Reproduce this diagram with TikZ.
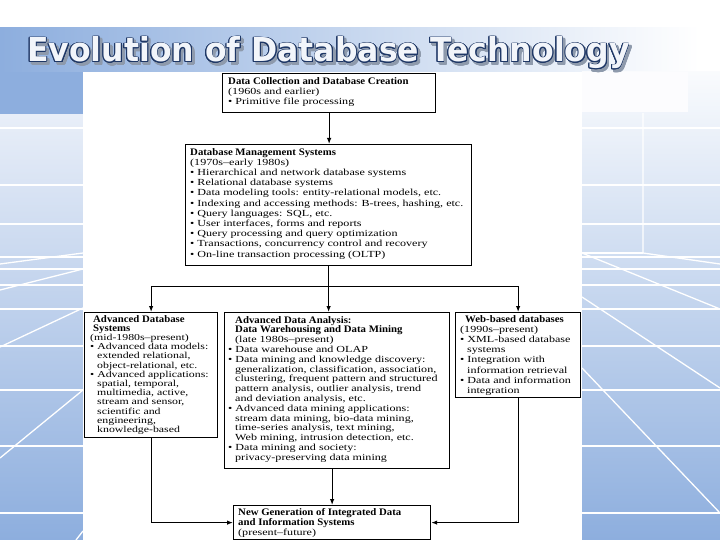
\documentclass[tikz,border=0pt]{standalone}
\usepackage{fontspec}
\usepackage{contour}
\usetikzlibrary{arrows.meta,calc}

\newfontfamily\boxfont{Liberation Serif}[FakeStretch=1.3,Ligatures=TeX]
\newfontfamily\headfont{Liberation Serif}[FakeStretch=1.08,Ligatures=TeX]
\newfontfamily\titlefont{DejaVu Sans}

\definecolor{slideblue}{HTML}{8DAEDE}
\definecolor{palestrip}{HTML}{E8EEF8}
\definecolor{titleedge}{HTML}{1E3766}
\definecolor{titleshadow}{HTML}{8E9AAC}
\definecolor{titlefill}{HTML}{F2F5FA}

\contourlength{0.9pt}
\newcommand{\hd}[1]{{\headfont\bfseries\fontsize{10}{10.2}\selectfont #1}}
\newcommand{\bu}{\textbullet\ }
\newcommand{\ind}{\hspace*{7pt}}

\begin{document}
\begin{tikzpicture}[x=1pt,y=-1pt,
    bgline/.style={white,line width=1.3pt},
    frame/.style={draw=black,line width=1.2pt,fill=white,anchor=north west,inner sep=0pt},
    txt/.style={anchor=north west,align=left,inner sep=0pt,
      font=\boxfont\fontsize{9.3}{10.2}\selectfont},
    tighttxt/.style={txt,font=\boxfont\fontsize{9.3}{9.8}\selectfont},
    densetxt/.style={txt,font=\boxfont\fontsize{9.1}{9.2}\selectfont},
    flow/.style={black,line width=1.1pt,-{Latex[length=6pt,width=4.5pt]}},
    link/.style={black,line width=1.1pt}]
\useasboundingbox (0,0) rectangle (720,540);

% slide background
\fill[white] (0,0) rectangle (720,540);
\shade[left color=slideblue,right color=white] (0,28) rectangle (700,72);
\fill[slideblue] (0,72) rectangle (83,115);
\shade[top color=palestrip,bottom color=slideblue] (0,115) rectangle (83,540);
\shade[top color=white!95!slideblue,bottom color=slideblue] (582,72) rectangle (720,540);
\fill[white!97!slideblue] (582,72) rectangle (688,112);
\foreach \yy in {128,185,224,257,269,285,309,346,390,446,513}{
  \draw[bgline] (0,\yy) -- (83,\yy);
  \draw[bgline] (582,\yy) -- (720,\yy);
}
\draw[bgline] (0,264) -- (83,253);
\draw[bgline] (0,290) -- (83,269);
\draw[bgline] (0,347) -- (83,308);
\draw[bgline] (0,458) -- (83,390);
\draw[bgline] (76,540) -- (83,531);
\draw[bgline] (643,113) -- (643,253) -- (720,264);
\draw[bgline] (582,253) -- (643,253);
\draw[bgline] (582,253) -- (720,309);
\draw[bgline] (582,297) -- (720,388);
\draw[bgline] (582,368) -- (720,513);

% content area
\fill[white] (83,72) rectangle (582,540);

% title
\node[anchor=base west,inner sep=0pt,text=titleshadow] (shadow) at (29.5,64.5)
  {\titlefont\bfseries\fontsize{33}{36}\selectfont\scalebox{0.955}[1]{\contour{titleshadow}{Evolution of Database Technology}}};
\node[anchor=base west,inner sep=0pt,text=titlefill] (title) at (27,62)
  {\titlefont\bfseries\fontsize{33}{36}\selectfont\scalebox{0.955}[1]{\contour{titleedge}{Evolution of Database Technology}}};

% boxes
\node[frame,minimum width=213pt,minimum height=39pt] (dc) at (222,73) {};
\node[frame,minimum width=286pt,minimum height=121pt] (dbms) at (185,144) {};
\node[frame,minimum width=133pt,minimum height=125pt] (adb) at (84,312) {};
\node[frame,minimum width=225pt,minimum height=156pt] (ada) at (224,312) {};
\node[frame,minimum width=125pt,minimum height=85pt] (web) at (455,312) {};
\node[frame,minimum width=197pt,minimum height=34pt] (ng) at (233,505) {};

\node[txt] (dc-t) at ($(dc.north west)+(6,4)$)
  {\hd{Data Collection and Database Creation}\\
   (1960s and earlier)\\
   \bu Primitive file processing};
\node[txt] (dbms-t) at ($(dbms.north west)+(5,4)$)
  {\hd{Database Management Systems}\\
   (1970s--early 1980s)\\
   \bu Hierarchical and network database systems\\
   \bu Relational database systems\\
   \bu Data modeling tools: entity-relational models, etc.\\
   \bu Indexing and accessing methods: B-trees, hashing, etc.\\
   \bu Query languages: SQL, etc.\\
   \bu User interfaces, forms and reports\\
   \bu Query processing and query optimization\\
   \bu Transactions, concurrency control and recovery\\
   \bu On-line transaction processing (OLTP)};
\node[densetxt] (adb-t) at ($(adb.north west)+(6,3)$)
  {\hspace*{3pt}\hd{Advanced Database}\\
   \hspace*{3pt}\hd{Systems}\\
   (mid-1980s--present)\\
   \bu Advanced data models:\\
   \ind extended relational,\\
   \ind object-relational, etc.\\
   \bu Advanced applications:\\
   \ind spatial, temporal,\\
   \ind multimedia, active,\\
   \ind stream and sensor,\\
   \ind scientific and\\
   \ind engineering,\\
   \ind knowledge-based};
\node[tighttxt] (ada-t) at ($(ada.north west)+(4,4)$)
  {\hspace*{7pt}\hd{Advanced Data Analysis:}\\
   \hspace*{7pt}\hd{Data Warehousing and Data Mining}\\
   \ind(late 1980s--present)\\
   \bu Data warehouse and OLAP\\
   \bu Data mining and knowledge discovery:\\
   \ind generalization, classification, association,\\
   \ind clustering, frequent pattern and structured\\
   \ind pattern analysis, outlier analysis, trend\\
   \ind and deviation analysis, etc.\\
   \bu Advanced data mining applications:\\
   \ind stream data mining, bio-data mining,\\
   \ind time-series analysis, text mining,\\
   \ind Web mining, intrusion detection, etc.\\
   \bu Data mining and society:\\
   \ind privacy-preserving data mining};
\node[txt] (web-t) at ($(web.north west)+(5,3)$)
  {\hspace*{5pt}\hd{Web-based databases}\\
   (1990s--present)\\
   \bu XML-based database\\
   \ind systems\\
   \bu Integration with\\
   \ind information retrieval\\
   \bu Data and information\\
   \ind integration};
\node[txt] (ng-t) at ($(ng.north west)+(5,3)$)
  {\hd{New Generation of Integrated Data}\\
   \hd{and Information Systems}\\
   (present--future)};

% connectors
\coordinate (split) at ($(dbms.south)+(0,20)$);
\draw[flow] (dc.south) -- (dc.south |- dbms.north);
\draw[link] (dbms.south) -- (split);
\draw[link] (split -| adb.north) -- (split -| web.north);
\draw[flow] (split -| adb.north) -- (adb.north);
\draw[flow] (split) -- (split |- ada.north);
\draw[flow] (split -| web.north) -- (web.north);
\draw[flow] (adb.south) |- (ng.west);
\draw[flow] (web.south) |- (ng.east);
\draw[flow] (ng.north |- ada.south) -- (ng.north);
\end{tikzpicture}
\end{document}
